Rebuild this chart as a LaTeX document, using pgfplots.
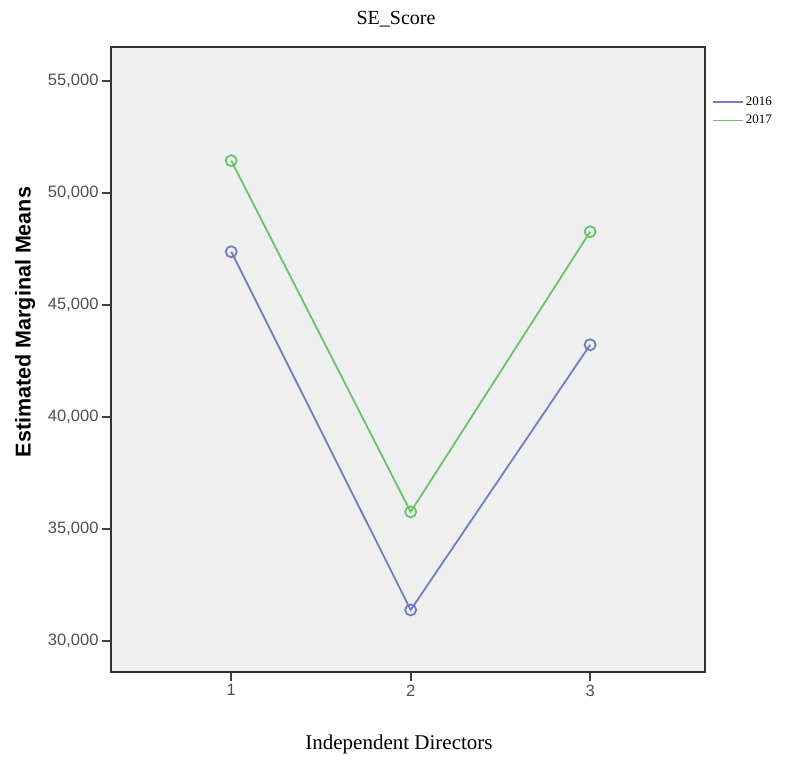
\documentclass[border=0pt]{standalone}
\usepackage{pgfplots}
\pgfplotsset{compat=1.18}
\usepackage{fontspec}
\setmainfont{Liberation Sans}
\newfontfamily\serif{Liberation Serif}
\definecolor{sBlue}{RGB}{112,126,190}
\definecolor{sGreen}{RGB}{104,196,104}
\definecolor{bgGray}{RGB}{239,239,239}
\definecolor{tickGray}{RGB}{80,80,80}
\begin{document}
\begin{tikzpicture}
\useasboundingbox (-111pt,-88pt) rectangle (677pt,672pt);
\begin{axis}[
  scale only axis,
  width=594pt, height=625pt,
  at={(0,0)}, anchor=south west,
  xmin=0.33, xmax=3.64,
  ymin=28616, ymax=56500,
  xtick={1,2,3},
  ytick={30000,35000,40000,45000,50000,55000},
  scaled ticks=false,
  xtick pos=bottom, ytick pos=left,
  tick align=outside,
  major tick length=9pt,
  every tick/.style={black!75, line width=1.8pt},
  axis line style={black!80, line width=1.8pt},
  axis background/.style={fill=bgGray},
  /pgf/number format/.cd, 1000 sep={,}, assume math mode=true,
  /pgfplots/.cd,
  ticklabel style={font=\fontsize{16.5}{18}\selectfont, text=tickGray},
  legend style={at={(1,1)}, anchor=north west, xshift=4pt, yshift=-46pt,
    draw=none, fill=none, font=\serif\fontsize{13}{15}\selectfont,
    row sep=4pt},
  legend cell align=left,
  legend image code/.code={\draw[#1, mark=none, line width=1.6pt] (0pt,0pt) -- (30pt,0pt);},
]
\addplot[sBlue, line width=1.8pt, mark=o, mark size=5.5pt, mark options={line width=1.8pt}]
  coordinates {(1,47366) (2,31384) (3,43214)};
\addlegendentry{2016}
\addplot[sGreen, line width=1.8pt, mark=o, mark size=5.5pt, mark options={line width=1.8pt}]
  coordinates {(1,51429) (2,35759) (3,48259)};
\addlegendentry{2017}
\end{axis}
\node[anchor=base, font=\serif\fontsize{20}{22}\selectfont] at (285pt,647pt) {SE\_Score};
\node[anchor=base, font=\serif\fontsize{21}{24}\selectfont] at (288pt,-78pt) {Independent Directors};
\node[rotate=90, anchor=center, font=\bfseries\fontsize{21.5}{24}\selectfont] at (-86pt,350pt) {Estimated Marginal Means};
\end{tikzpicture}
\end{document}
